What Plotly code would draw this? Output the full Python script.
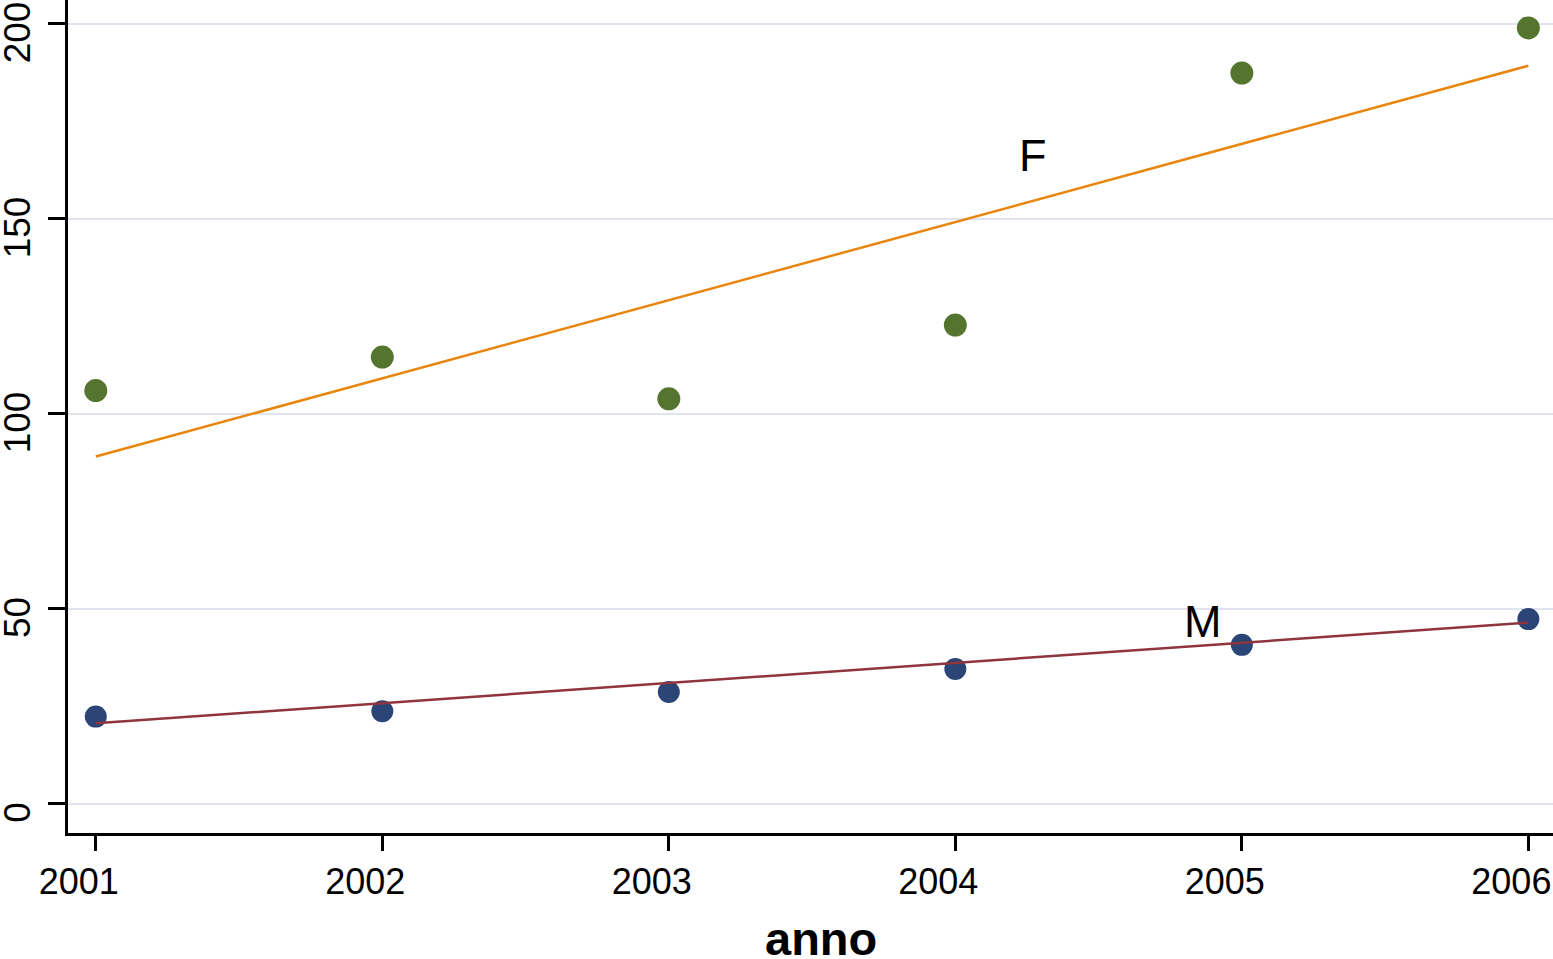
import plotly.graph_objects as go

years = [2001, 2002, 2003, 2004, 2005, 2006]
female = [106.0, 114.6, 103.9, 122.8, 187.4, 199.0]
male = [22.4, 23.8, 28.7, 34.6, 40.8, 47.4]

fit_years = [2001, 2006]
fit_female = [89.1, 189.3]
fit_male = [20.7, 46.5]

series_labels = ["F", "M"]
label_x = [2004.27, 2004.865]
label_y = [166.4, 46.9]

y_ticks = [0, 50, 100, 150, 200]
x_ticks = years
x_title = "anno"

GREEN = "#55752f"
NAVY = "#2a4576"
ORANGE = "#e8850a"
MAROON = "#90353b"
FONT = "Liberation Sans, Arial, sans-serif"

fig = go.Figure()
fig.add_trace(go.Scatter(x=years, y=female, mode="markers", cliponaxis=False,
                         marker=dict(color=GREEN, size=23, line=dict(width=0))))
fig.add_trace(go.Scatter(x=years, y=male, mode="markers", cliponaxis=False,
                         marker=dict(color=NAVY, size=22, line=dict(width=0))))
fig.add_trace(go.Scatter(x=fit_years, y=fit_female, mode="lines",
                         line=dict(color=ORANGE, width=2.5)))
fig.add_trace(go.Scatter(x=fit_years, y=fit_male, mode="lines",
                         line=dict(color=MAROON, width=2.5)))

for lab, lx, ly in zip(series_labels, label_x, label_y):
    fig.add_annotation(x=lx, y=ly, text=lab, showarrow=False,
                       font=dict(family=FONT, size=45, color="black"),
                       xanchor="center", yanchor="middle")

# x-axis title
fig.add_annotation(x=0.507, y=0, xref="paper", yref="paper",
                   text="<b>" + x_title + "</b>", showarrow=False,
                   font=dict(family=FONT, size=47, color="black"),
                   xanchor="center", yanchor="middle", yshift=-105)

fig.update_layout(
    width=1553, height=959,
    margin=dict(l=68, r=0, t=0, b=126),
    paper_bgcolor="white", plot_bgcolor="white",
    showlegend=False,
    font=dict(family=FONT, color="black"),
)
fig.update_xaxes(
    range=[2000.903, 2006.086],
    automargin=False,
    tickvals=x_ticks, ticktext=[str(v) for v in x_ticks],
    showgrid=False, zeroline=False,
    showline=True, linecolor="black", linewidth=3,
    ticks="outside", ticklen=15, tickwidth=2.5, tickcolor="black",
    tickfont=dict(family=FONT, size=36, color="black"),
    ticklabelstandoff=0,
    ticklabelshift=-17,
    ticklabeloverflow="allow",
)
fig.update_yaxes(
    range=[-7.44, 206.15],
    automargin=False,
    tickvals=y_ticks, ticktext=[str(v) for v in y_ticks],
    showgrid=True, gridcolor="#e0e4ee", gridwidth=2,
    zeroline=False,
    showline=True, linecolor="black", linewidth=3,
    ticks="outside", ticklen=17, tickwidth=2.5, tickcolor="black",
    tickangle=-90,
    tickfont=dict(family=FONT, size=37, color="black"),
    ticklabelstandoff=3,
    ticklabelshift=14,
    ticklabeloverflow="allow",
)

fig.write_html(
    "out.html",
    config={"displayModeBar": False},
    post_script="document.body.style.margin='0';document.body.style.overflow='hidden';",
)
